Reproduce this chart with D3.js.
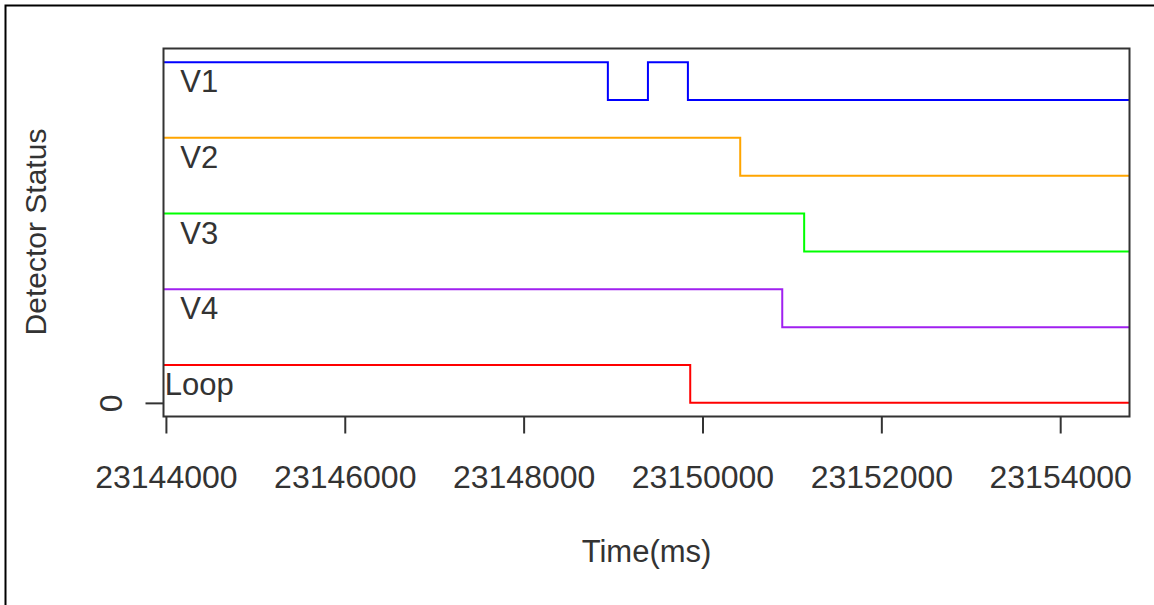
<!DOCTYPE html>
<html>
<head>
<meta charset="utf-8">
<script src="https://cdn.jsdelivr.net/npm/d3@7"></script>
<style>
  body { margin: 0; background: #fff; }
  text { font-family: "Liberation Sans", Arial, sans-serif; fill: #333; }
</style>
</head>
<body>
<svg id="chart" width="1154" height="605"></svg>
<script>
// series + levels
var seriesNames = ["V1", "V2", "V3", "V4", "Loop"];
var seriesColors = ["#0000ff", "#ffa500", "#00ff00", "#a020f0", "#ff0000"];
var baseLevels = [8, 6, 4, 2, 0];

// state changes (ms) for each detector, 1 = on, 0 = off
var v1Times = [23143973, 23148942, 23149390, 23149837];
var v1States = [1, 0, 1, 0];
var v2Times = [23143973, 23150422];
var v2States = [1, 0];
var v3Times = [23143973, 23151137];
var v3States = [1, 0];
var v4Times = [23143973, 23150892];
var v4States = [1, 0];
var loopTimes = [23143973, 23149863];
var loopStates = [1, 0];

var xTicks = [23144000, 23146000, 23148000, 23150000, 23152000, 23154000];
var yTicks = [0];
var labelTime = 23144372;

var xDomain = [23143973, 23154775];
var yDomain = [-0.36, 9.36];

var svg = d3.select('#chart');

// outer frame, only left/top visible
svg.append('rect')
    .attr('x', 5.5).attr('y', 5.5)
    .attr('width', 1300).attr('height', 800)
    .attr('fill', 'none')
    .attr('stroke', '#000')
    .attr('stroke-width', 2);

var plot = { left: 163.5, right: 1129.5, top: 48.5, bottom: 416.5 };

var x = d3.scaleLinear().domain(xDomain).range([plot.left, plot.right]);
var y = d3.scaleLinear().domain(yDomain).range([plot.bottom, plot.top]);

var allTimes = [v1Times, v2Times, v3Times, v4Times, loopTimes];
var allStates = [v1States, v2States, v3States, v4States, loopStates];

var line = d3.line()
    .x(function(d) { return x(d.t); })
    .y(function(d) { return y(d.v); })
    .curve(d3.curveStepAfter);

seriesNames.forEach(function(name, i) {
    var pts = allTimes[i].map(function(t, j) {
        return { t: t, v: baseLevels[i] + allStates[i][j] };
    });
    // hold last state until the right edge
    pts.push({ t: xDomain[1], v: pts[pts.length - 1].v });

    svg.append('path')
        .datum(pts)
        .attr('d', line)
        .attr('fill', 'none')
        .attr('stroke', seriesColors[i])
        .attr('stroke-width', 2);

    svg.append('text')
        .attr('x', x(labelTime))
        .attr('y', y(baseLevels[i] + 0.5))
        .attr('dy', '0.36em')
        .attr('text-anchor', 'middle')
        .style('font-size', '31px')
        .text(name);
});

// box
svg.append('rect')
    .attr('x', plot.left).attr('y', plot.top)
    .attr('width', plot.right - plot.left)
    .attr('height', plot.bottom - plot.top)
    .attr('fill', 'none')
    .attr('stroke', '#333')
    .attr('stroke-width', 2);

// x axis
var xAxis = d3.axisBottom(x)
    .tickValues(xTicks)
    .tickSize(17)
    .tickPadding(32)
    .tickFormat(d3.format('d'));

var gx = svg.append('g')
    .attr('transform', 'translate(0,' + plot.bottom + ')')
    .call(xAxis);
gx.select('.domain').remove();
gx.selectAll('.tick line').attr('stroke', '#333').attr('stroke-width', 2);
gx.selectAll('.tick text')
    .style('font-size', '32px')
    .attr('font-family', null)
    .attr('fill', '#333');

// y axis
var yAxis = d3.axisLeft(y).tickValues(yTicks).tickSize(18).tickFormat(d3.format('d'));
var gy = svg.append('g')
    .attr('transform', 'translate(' + plot.left + ',0)')
    .call(yAxis);
gy.select('.domain').remove();
gy.selectAll('.tick line').attr('stroke', '#333').attr('stroke-width', 2);
gy.selectAll('.tick text')
    .attr('x', null).attr('dy', null)
    .attr('text-anchor', 'middle')
    .attr('fill', '#333')
    .style('font-size', '32px')
    .attr('transform', 'translate(-42,0) rotate(-90)')
    .attr('y', 0);

// axis titles
svg.append('text')
    .attr('x', (plot.left + plot.right) / 2)
    .attr('y', 562)
    .attr('text-anchor', 'middle')
    .style('font-size', '31px')
    .text('Time(ms)');

svg.append('text')
    .attr('transform', 'translate(46,' + 232 + ') rotate(-90)')
    .attr('text-anchor', 'middle')
    .style('font-size', '30px')
    .text('Detector Status');
</script>
</body>
</html>
